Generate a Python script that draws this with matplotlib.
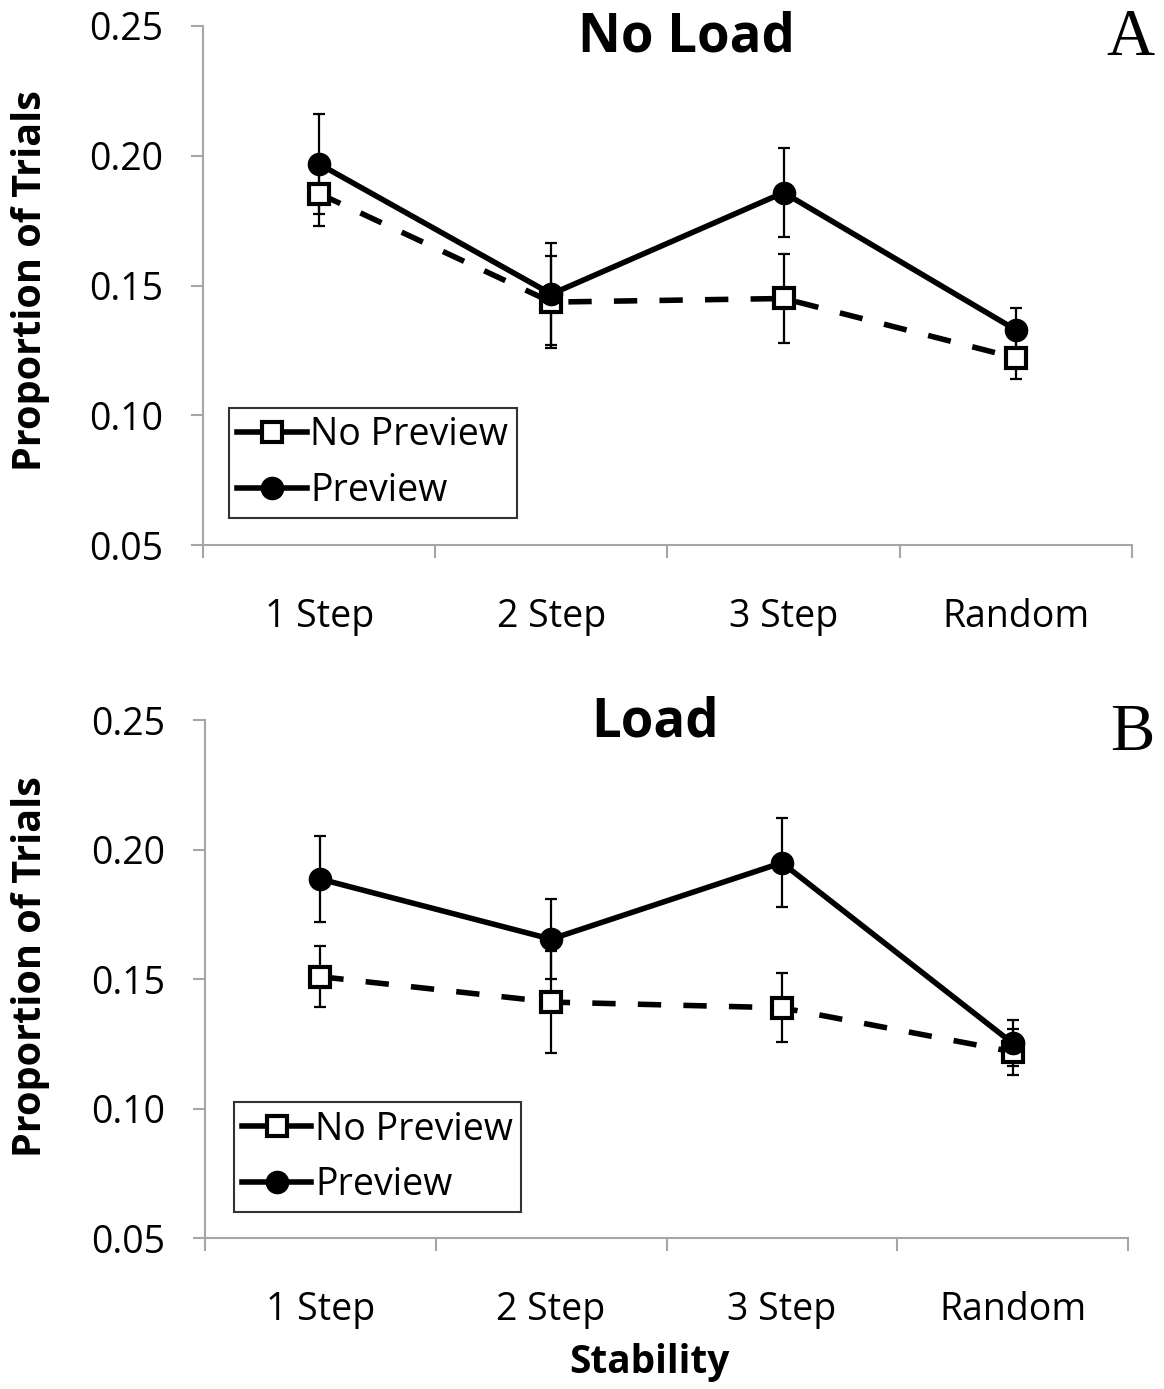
import numpy as np
import matplotlib
matplotlib.use("Agg")
import matplotlib.pyplot as plt
from matplotlib.lines import Line2D

plt.rcParams['font.family'] = ['Open Sans', 'DejaVu Sans']

# data
conditions = ['1 Step', '2 Step', '3 Step', 'Random']

noload_nopreview = [0.1854, 0.1436, 0.1450, 0.1221]
noload_nopreview_err = [0.0123, 0.0177, 0.0170, 0.0081]
noload_preview = [0.1968, 0.1467, 0.1858, 0.1329]
noload_preview_err = [0.0193, 0.0197, 0.0170, 0.0085]

load_nopreview = [0.1509, 0.1411, 0.1389, 0.1219]
load_nopreview_err = [0.0118, 0.0197, 0.0134, 0.0089]
load_preview = [0.1886, 0.1654, 0.1949, 0.1252]
load_preview_err = [0.0166, 0.0154, 0.0171, 0.0089]

yticks = [0.05, 0.10, 0.15, 0.20, 0.25]
axis_gray = '#a6a6a6'


def draw_panel(ax, nopreview, nopreview_err, preview, preview_err, legend_anchor):
    x = np.arange(len(conditions))

    # error bars first so markers sit on top
    ax.errorbar(x, nopreview, yerr=nopreview_err, fmt='none', ecolor='black',
                elinewidth=1.6, capsize=4.3, capthick=1.6, zorder=2)
    ax.errorbar(x, preview, yerr=preview_err, fmt='none', ecolor='black',
                elinewidth=1.6, capsize=4.3, capthick=1.6, zorder=2)

    ax.plot(x, nopreview, color='black', linewidth=4, linestyle=(0, (4.2, 4.0)),
            marker='s', markersize=14, markerfacecolor='white',
            markeredgecolor='black', markeredgewidth=3, zorder=3)
    ax.plot(x, preview, color='black', linewidth=4, linestyle='-',
            marker='o', markersize=16, markerfacecolor='black',
            markeredgecolor='black', zorder=4)

    ax.set_xlim(-0.5, len(conditions) - 0.5)
    ax.set_ylim(0.05, 0.25)
    ax.set_yticks(yticks)
    ax.set_yticklabels(['%.2f' % v for v in yticks])

    # category boundaries as ticks, labels at the centres
    ax.set_xticks(np.arange(len(conditions) + 1) - 0.5)
    ax.set_xticklabels([])
    ax.set_xticks(x, minor=True)
    ax.set_xticklabels(conditions, minor=True)
    ax.tick_params(axis='x', which='major', length=9, width=1.5, color=axis_gray,
                   direction='out')
    ax.tick_params(axis='x', which='minor', length=0, pad=38, labelsize=27)
    ax.tick_params(axis='y', length=9, width=1.5, color=axis_gray,
                   direction='out', pad=20, labelsize=27)

    for side in ['top', 'right']:
        ax.spines[side].set_visible(False)
    for side in ['left', 'bottom']:
        ax.spines[side].set_color(axis_gray)
        ax.spines[side].set_linewidth(1.5)

    handles = [
        Line2D([], [], color='black', linewidth=4, marker='s', markersize=14,
               markerfacecolor='white', markeredgecolor='black', markeredgewidth=3),
        Line2D([], [], color='black', linewidth=4, marker='o', markersize=16,
               markerfacecolor='black'),
    ]
    leg = ax.legend(handles, ['No Preview', 'Preview'], loc='upper left',
                    bbox_to_anchor=legend_anchor, fontsize=27, frameon=True,
                    fancybox=False, handlelength=1.85, handletextpad=0.1,
                    labelspacing=0.47, borderpad=0.22, borderaxespad=0)
    leg.get_frame().set_edgecolor('black')
    leg.get_frame().set_linewidth(1.5)


fig = plt.figure(figsize=(11.64, 13.89), dpi=100)
ax1 = fig.add_axes([0.1744, 0.6076, 0.7981, 0.3737])
ax2 = fig.add_axes([0.1761, 0.1087, 0.7930, 0.3729])

draw_panel(ax1, noload_nopreview, noload_nopreview_err, noload_preview,
           noload_preview_err, (0.028, 0.264))
draw_panel(ax2, load_nopreview, load_nopreview_err, load_preview,
           load_preview_err, (0.031, 0.262))

fig.text(0.590, 0.973, 'No Load', ha='center', va='center', fontsize=38,
         fontweight='bold')
fig.text(0.563, 0.480, 'Load', ha='center', va='center', fontsize=38,
         fontweight='bold')
fig.text(0.971, 0.972, 'A', ha='center', va='center', fontsize=48,
         family='Liberation Serif')
fig.text(0.973, 0.472, 'B', ha='center', va='center', fontsize=48,
         family='Liberation Serif')
fig.text(0.026, 0.798, 'Proportion of Trials', rotation=90, ha='center',
         va='center', fontsize=28.5, fontweight='bold')
fig.text(0.026, 0.304, 'Proportion of Trials', rotation=90, ha='center',
         va='center', fontsize=28.5, fontweight='bold')
fig.text(0.558, 0.0194, 'Stability', ha='center', va='center', fontsize=28,
         fontweight='bold')

fig.savefig('out.png', dpi=100)
